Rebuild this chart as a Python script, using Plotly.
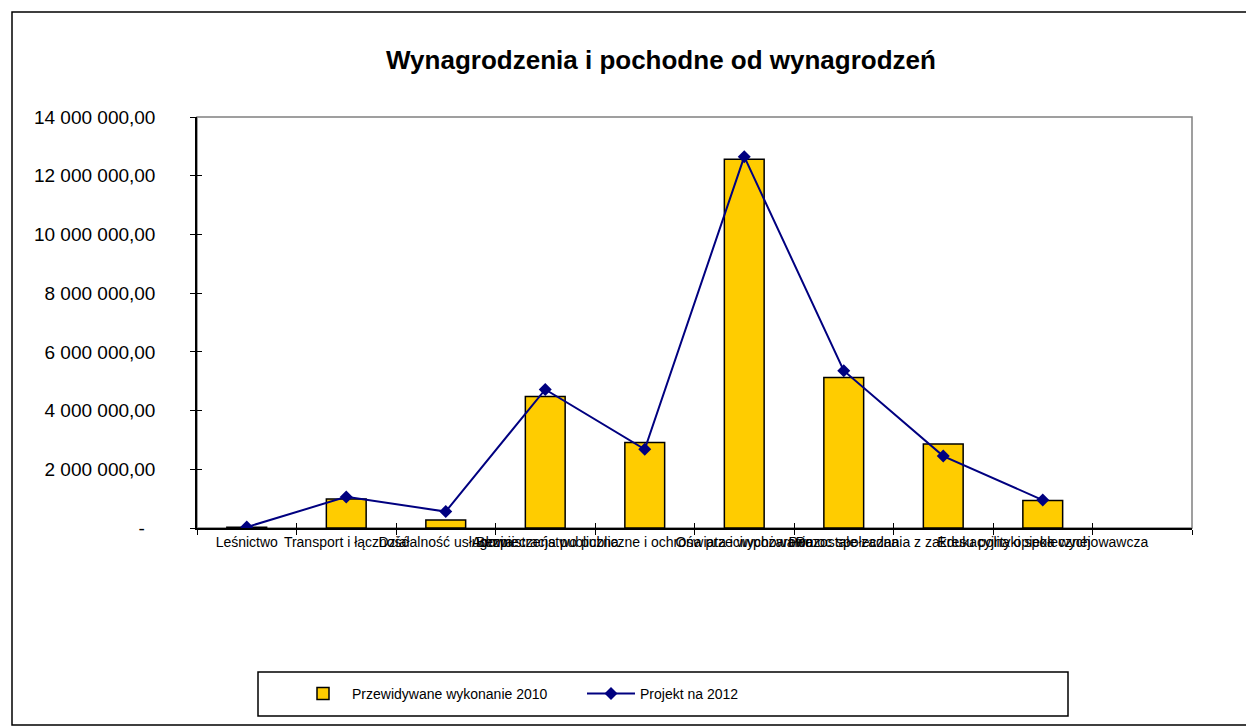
import plotly.graph_objects as go

categories = [
    "Leśnictwo",
    "Transport i łączność",
    "Działalność usługowa",
    "Administracja publiczna",
    "Bezpieczeństwo publiczne i ochrona przeciwpożarowa",
    "Oświata i wychowanie",
    "Pomoc społeczna",
    "Pozostałe zadania z zakresu polityki społecznej",
    "Edukacyjna opieka wychowawcza",
    "\u00a0",
]
wykonanie_2010 = [25000, 990000, 275000, 4480000, 2910000, 12560000, 5130000, 2860000, 940000, None]
projekt_2012 = [30000, 1060000, 560000, 4720000, 2680000, 12650000, 5360000, 2450000, 950000, None]

y_tickvals = [0, 2000000, 4000000, 6000000, 8000000, 10000000, 12000000, 14000000]
y_ticktext = ["-\u00a0\u00a0", "2 000 000,00", "4 000 000,00", "6 000 000,00", "8 000 000,00",
              "10 000 000,00", "12 000 000,00", "14 000 000,00"]

OFF = 8  # page body margin
W, H = 1254 - OFF, 726 - OFF
L, R, T, B = 197 - OFF, 1192 - OFF, 117 - OFF, 528 - OFF


def px(x):
    return (x - OFF - L) / (R - L)


def py(y):
    return (B - (y - OFF)) / (B - T)


FONT = "Arial, Liberation Sans, sans-serif"

fig = go.Figure()
fig.add_trace(go.Bar(
    x=categories, y=wykonanie_2010, name="Przewidywane wykonanie 2010",
    marker=dict(color="#FFCC00", line=dict(color="#000000", width=1.5)),
    width=0.4,
))
fig.add_trace(go.Scatter(
    x=categories, y=projekt_2012, name="Projekt na 2012", mode="lines+markers",
    line=dict(color="#000080", width=2),
    marker=dict(symbol="diamond", size=10, color="#000080"),
))
# helper trace for crossing tick marks
fig.add_trace(go.Scatter(
    x=categories, y=[None] * len(categories), xaxis="x2", yaxis="y2",
    showlegend=False, hoverinfo="skip", mode="markers",
))

fig.update_layout(
    width=W, height=H,
    margin=dict(l=L, r=W - R, t=T, b=H - B, autoexpand=False),
    paper_bgcolor="white", plot_bgcolor="white",
    font=dict(family=FONT, color="#000000"),
    bargap=0.6,
    title=dict(text="<b>Wynagrodzenia i pochodne od wynagrodzeń</b>",
               font=dict(size=26, family=FONT, color="#000000"),
               x=px(661), xref="paper", xanchor="center",
               y=1 - (60 - OFF) / H, yref="container", yanchor="middle"),
    xaxis=dict(type="category", categoryorder="array", categoryarray=categories,
               range=[-0.5, 9.5],
               showline=True, linecolor="#000000", linewidth=1.5,
               ticks="outside", ticklen=5, tickcolor="#000000", tickwidth=1,
               tickson="boundaries", tickangle=0,
               tickfont=dict(size=14, family=FONT), showgrid=False, zeroline=False),
    yaxis=dict(range=[0, 14000000], tickvals=y_tickvals, ticktext=y_ticktext,
               showline=True, linecolor="#000000", linewidth=1.5,
               ticks="outside", ticklen=5, tickcolor="#000000", tickwidth=1,
               ticklabelstandoff=31,
               tickfont=dict(size=19, family=FONT), showgrid=False, zeroline=False),
    xaxis2=dict(type="category", categoryorder="array", categoryarray=categories,
                range=[-0.5, 9.5], overlaying="x", anchor="y2",
                ticks="inside", ticklen=5, tickcolor="#000000", tickwidth=1,
                tickson="boundaries", showticklabels=False, showgrid=False,
                zeroline=False, showline=False),
    yaxis2=dict(range=[0, 14000000], tickvals=y_tickvals, overlaying="y", anchor="x2",
                ticks="inside", ticklen=5, tickcolor="#000000", tickwidth=1,
                showticklabels=False, showgrid=False, zeroline=False, showline=False),
    showlegend=True,
    legend=dict(orientation="h", x=px(294), xanchor="left", y=py(694), yanchor="middle",
                font=dict(size=14, family=FONT), bgcolor="rgba(0,0,0,0)",
                borderwidth=0, entrywidth=225, entrywidthmode="pixels",
                itemwidth=48, traceorder="normal"),
    shapes=[
        # plot area border (gray)
        dict(type="rect", xref="paper", yref="paper", x0=0, x1=1, y0=0, y1=1,
             line=dict(color="#808080", width=1.5), layer="below"),
        # outer chart border
        dict(type="rect", xref="paper", yref="paper", x0=px(12), x1=px(1253),
             y0=py(725), y1=py(12), line=dict(color="#000000", width=1.5), layer="below"),
        # legend box
        dict(type="rect", xref="paper", yref="paper", x0=px(258), x1=px(1068),
             y0=py(716), y1=py(672), line=dict(color="#000000", width=1.5), layer="below"),
    ],
)

fig.write_html("out.html")
